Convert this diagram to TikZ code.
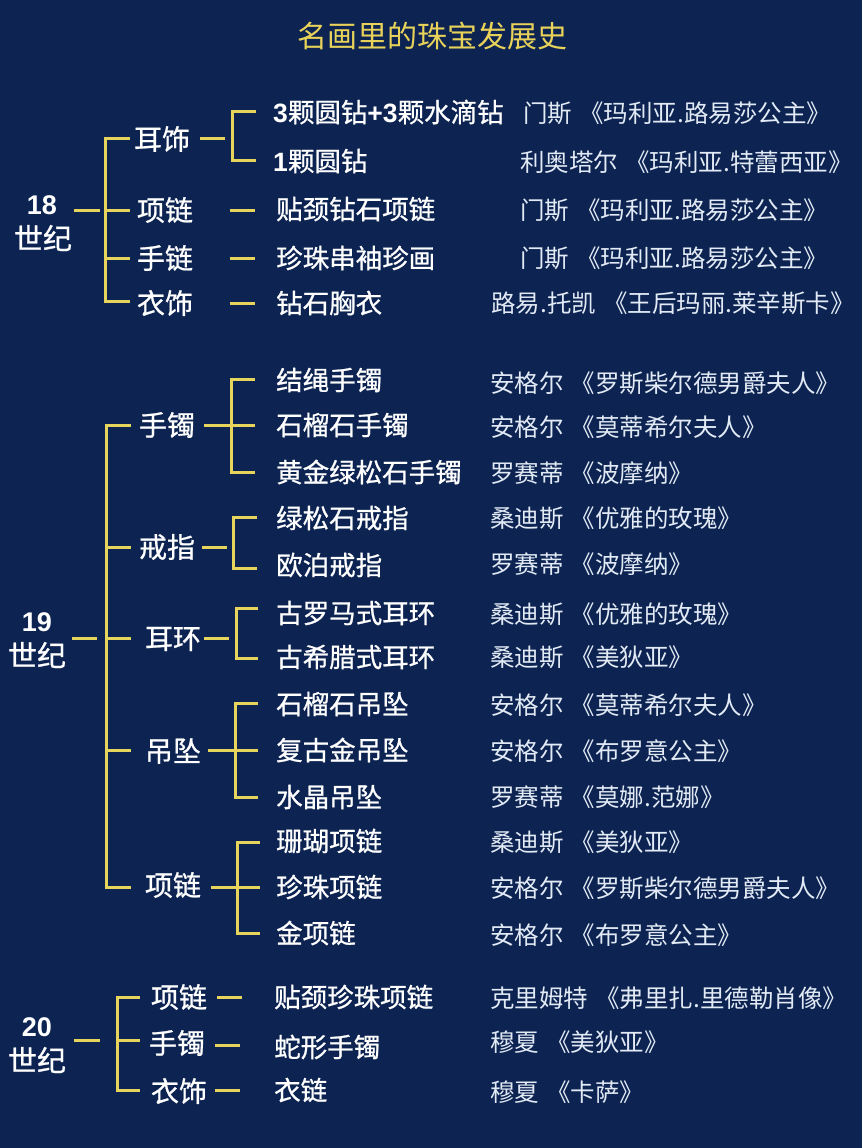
\documentclass[tikz,border=0pt]{standalone}
\usepackage{fontspec}
\newfontfamily\cjk{Noto Sans CJK SC}
\newfontfamily\cjkm[FakeBold=0.8]{Noto Sans CJK SC}
\newfontfamily\arialb{Liberation Sans Bold}
\definecolor{bg}{HTML}{0D2452}
\definecolor{lineyel}{HTML}{E6D45C}
\definecolor{titleyel}{HTML}{E8D25A}
\definecolor{srcwhite}{HTML}{E2EAF5}
\tikzset{
  ln/.style={draw=lineyel, line width=3pt},
  cent/.style={font=\cjkm\fontsize{29}{32}\selectfont, text=white, inner sep=0},
  num/.style={font=\arialb\fontsize{27}{30}\selectfont, text=white, inner sep=0},
  cat/.style={font=\cjkm\fontsize{28}{32}\selectfont, text=white, inner sep=0},
  item/.style={font=\cjkm\fontsize{26.5}{30}\selectfont, text=white, anchor=west, inner sep=0},
  src/.style={font=\cjk\fontsize{24.5}{28}\selectfont, text=srcwhite, anchor=west, inner sep=0},
}
\newcommand{\bd}[1]{{\arialb #1}}
\newcommand{\gp}{\hspace{7pt}}
\begin{document}
\begin{tikzpicture}[x=1pt,y=-1pt]
\fill[bg] (0,0) rectangle (862,1148);
\useasboundingbox (0,0) rectangle (862,1148);
% title
\node[font=\cjk\fontsize{30}{34}\selectfont, text=titleyel, inner sep=0] (title) at (432,36) {名画里的珠宝发展史};

% ===== 18th century =====
\node[num] (n18) at (42,205) {18};
\node[cent] (c18) at (43,238) {世纪};
\coordinate (l18a) at (74,210); \coordinate (l18b) at (100,210);
\draw[ln] (l18a) -- (l18b);
\coordinate (b18t) at (105,138); \coordinate (b18b) at (105,301);
\coordinate (b18m1) at (105,210); \coordinate (b18m2) at (105,258);
\draw[ln] (130,138) -- (b18t) -- (b18b) -- (130,301);
\draw[ln] (b18m1) -- ++(25,0);
\draw[ln] (b18m2) -- ++(25,0);
\node[cat] (k18a) at (162,139) {耳饰};
\node[cat] (k18b) at (165,210) {项链};
\node[cat] (k18c) at (165,258) {手链};
\node[cat] (k18d) at (165,303) {衣饰};
% earring sub bracket
\coordinate (d18a1) at (200,138); \coordinate (d18a2) at (225,138);
\draw[ln] (d18a1) -- (d18a2);
\coordinate (s18t) at (232,111); \coordinate (s18b) at (232,160);
\draw[ln] (256,111) -- (s18t) -- (s18b) -- (256,160);
\foreach \yy/\nm in {210/d18b,258/d18c,303/d18d}{
  \coordinate (\nm) at (230,\yy);
  \draw[ln] (\nm) -- ++(25,0);
}
\node[item] (i18a) at (273,112) {\bd{3}颗圆钻\bd{+3}颗水滴钻};
\node[item] (i18b) at (273,161) {\bd{1}颗圆钻};
\node[item] (i18c) at (276,209) {贴颈钻石项链};
\node[item] (i18d) at (276,258) {珍珠串袖珍画};
\node[item] (i18e) at (276,303) {钻石胸衣};
\node[src] (r18a) at (523,113) {门斯\gp《玛利亚.路易莎公主》};
\node[src] (r18b) at (520,162) {利奥塔尔\gp《玛利亚.特蕾西亚》};
\node[src] (r18c) at (520,210) {门斯\gp《玛利亚.路易莎公主》};
\node[src] (r18d) at (520,258) {门斯\gp《玛利亚.路易莎公主》};
\node[src] (r18e) at (491,303) {路易.托凯\gp《王后玛丽.莱辛斯卡》};

% ===== 19th century =====
\node[num] (n19) at (37,622) {19};
\node[cent] (c19) at (37,655) {世纪};
\coordinate (l19a) at (72,638); \coordinate (l19b) at (97,638);
\draw[ln] (l19a) -- (l19b);
\coordinate (b19t) at (106,425); \coordinate (b19b) at (106,887);
\draw[ln] (131,425) -- (b19t) -- (b19b) -- (131,887);
\foreach \yy/\nm in {547/b19m1,638/b19m2,750/b19m3}{
  \coordinate (\nm) at (106,\yy);
  \draw[ln] (\nm) -- ++(25,0);
}
\node[cat] (k19a) at (167,425) {手镯};
\node[cat] (k19b) at (167,547) {戒指};
\node[cat] (k19c) at (173,639) {耳环};
\node[cat] (k19d) at (173,751) {吊坠};
\node[cat] (k19e) at (173,885) {项链};
% bracelet
\coordinate (d19a1) at (204,425); \coordinate (d19a2) at (255,425);
\draw[ln] (d19a1) -- (d19a2);
\coordinate (s19at) at (231,379); \coordinate (s19ab) at (231,472);
\draw[ln] (255,379) -- (s19at) -- (s19ab) -- (255,472);
% ring
\coordinate (d19b1) at (202,547); \coordinate (d19b2) at (227,547);
\draw[ln] (d19b1) -- (d19b2);
\coordinate (s19bt) at (233,517); \coordinate (s19bb) at (233,568);
\draw[ln] (257,517) -- (s19bt) -- (s19bb) -- (257,568);
% earring
\coordinate (d19c1) at (204,638); \coordinate (d19c2) at (229,638);
\draw[ln] (d19c1) -- (d19c2);
\coordinate (s19ct) at (236,608); \coordinate (s19cb) at (236,658);
\draw[ln] (258,608) -- (s19ct) -- (s19cb) -- (258,658);
% pendant
\coordinate (d19d1) at (208,750); \coordinate (d19d2) at (258,750);
\draw[ln] (d19d1) -- (d19d2);
\coordinate (s19dt) at (235,703); \coordinate (s19db) at (235,797);
\draw[ln] (258,703) -- (s19dt) -- (s19db) -- (258,797);
% necklace
\coordinate (d19e1) at (211,887); \coordinate (d19e2) at (260,887);
\draw[ln] (d19e1) -- (d19e2);
\coordinate (s19et) at (237,842); \coordinate (s19eb) at (237,933);
\draw[ln] (260,842) -- (s19et) -- (s19eb) -- (260,933);

\node[item] (i19a) at (276,380) {结绳手镯};
\node[item] (i19b) at (276,425) {石榴石手镯};
\node[item] (i19c) at (276,472) {黄金绿松石手镯};
\node[item] (i19d) at (276,518) {绿松石戒指};
\node[item] (i19e) at (276,565) {欧泊戒指};
\node[item] (i19f) at (276,613) {古罗马式耳环};
\node[item] (i19g) at (276,657) {古希腊式耳环};
\node[item] (i19h) at (276,704) {石榴石吊坠};
\node[item] (i19i) at (276,750) {复古金吊坠};
\node[item] (i19j) at (276,797) {水晶吊坠};
\node[item] (i19k) at (276,841) {珊瑚项链};
\node[item] (i19l) at (276,887) {珍珠项链};
\node[item] (i19m) at (276,933) {金项链};

\node[src] (r19a) at (490,383) {安格尔\gp《罗斯柴尔德男爵夫人》};
\node[src] (r19b) at (490,427) {安格尔\gp《莫蒂希尔夫人》};
\node[src] (r19c) at (490,473) {罗赛蒂\gp《波摩纳》};
\node[src] (r19d) at (490,518) {桑迪斯\gp《优雅的玫瑰》};
\node[src] (r19e) at (490,564) {罗赛蒂\gp《波摩纳》};
\node[src] (r19f) at (490,614) {桑迪斯\gp《优雅的玫瑰》};
\node[src] (r19g) at (490,657) {桑迪斯\gp《美狄亚》};
\node[src] (r19h) at (490,705) {安格尔\gp《莫蒂希尔夫人》};
\node[src] (r19i) at (490,751) {安格尔\gp《布罗意公主》};
\node[src] (r19j) at (490,797) {罗赛蒂\gp《莫娜.范娜》};
\node[src] (r19k) at (490,842) {桑迪斯\gp《美狄亚》};
\node[src] (r19l) at (490,888) {安格尔\gp《罗斯柴尔德男爵夫人》};
\node[src] (r19m) at (490,935) {安格尔\gp《布罗意公主》};

% ===== 20th century =====
\node[num] (n20) at (37,1027) {20};
\node[cent] (c20) at (37,1060) {世纪};
\coordinate (l20a) at (74,1040); \coordinate (l20b) at (100,1040);
\draw[ln] (l20a) -- (l20b);
\coordinate (b20t) at (117,997); \coordinate (b20b) at (117,1090);
\coordinate (b20m) at (117,1040);
\draw[ln] (140,997) -- (b20t) -- (b20b) -- (140,1090);
\draw[ln] (b20m) -- ++(23,0);
\node[cat] (k20a) at (179,997) {项链};
\node[cat] (k20b) at (177,1043) {手镯};
\node[cat] (k20c) at (179,1091) {衣饰};
\coordinate (d20a) at (217,997); \draw[ln] (d20a) -- ++(25,0);
\coordinate (d20b) at (215,1045); \draw[ln] (d20b) -- ++(25,0);
\coordinate (d20c) at (215,1090); \draw[ln] (d20c) -- ++(25,0);
\node[item] (i20a) at (274,997) {贴颈珍珠项链};
\node[item] (i20b) at (274,1047) {蛇形手镯};
\node[item] (i20c) at (274,1090) {衣链};
\node[src] (r20a) at (490,998) {克里姆特\gp《弗里扎.里德勒肖像》};
\node[src] (r20b) at (490,1042) {穆夏\gp《美狄亚》};
\node[src] (r20c) at (490,1092) {穆夏\gp《卡萨》};
\end{tikzpicture}
\end{document}
